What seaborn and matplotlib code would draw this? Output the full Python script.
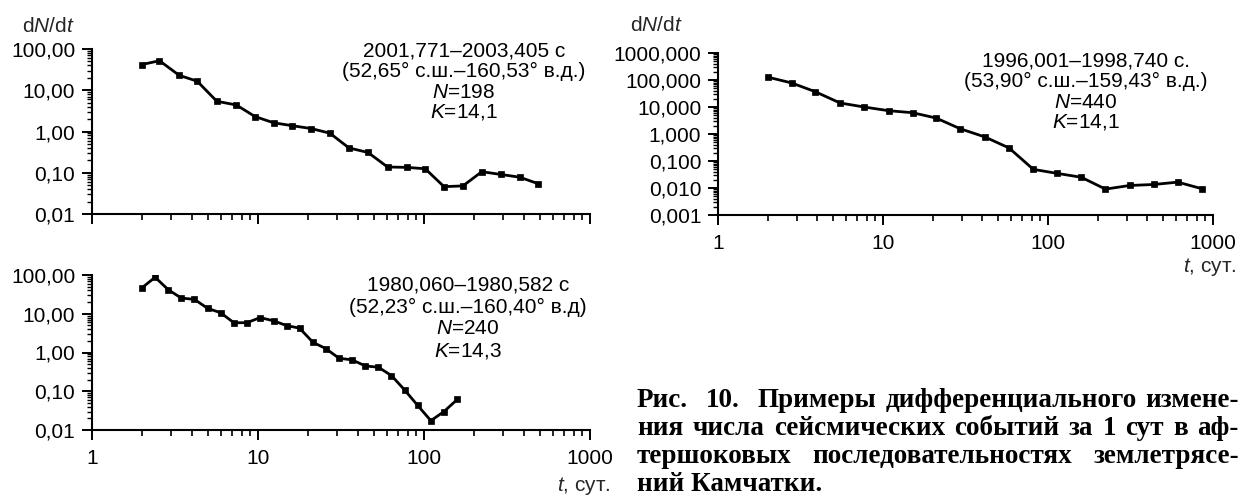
import numpy as np
import pandas as pd
import matplotlib
matplotlib.use("Agg")
import matplotlib.pyplot as plt
import seaborn as sns
from matplotlib.ticker import LogLocator, FuncFormatter, NullFormatter, FixedLocator

# --- aftershock sequences: time since main shock (days) and daily rate dN/dt ---
# 2001,771–2003,405
t_a = [2.0, 2.55, 3.35, 4.3, 5.65, 7.4, 9.6, 12.4, 16.1, 20.9, 27.1, 35.3, 46.0, 60.3,
       78.5, 101.7, 132.0, 171.6, 223.0, 290.0, 377.0, 489.0]
n_a = [42, 52, 23, 16.6, 5.4, 4.4, 2.3, 1.63, 1.38, 1.18, 0.91, 0.40, 0.31, 0.138,
       0.135, 0.125, 0.046, 0.048, 0.106, 0.091, 0.078, 0.054]

# 1980,060–1980,582
t_b = [2.0, 2.4, 2.88, 3.45, 4.14, 4.97, 5.96, 7.15, 8.57, 10.3, 12.4, 14.9, 17.8,
       21.4, 25.6, 30.8, 36.9, 44.3, 53.1, 63.7, 76.4, 91.6, 110.0, 132.0, 159.0]
n_b = [46.7, 87.5, 41.7, 25.4, 23.5, 13.8, 10.6, 5.87, 5.87, 7.96, 6.58, 4.94, 4.25,
       1.84, 1.26, 0.71, 0.645, 0.45, 0.417, 0.254, 0.108, 0.043, 0.0174, 0.030, 0.062]

# 1996,001–1998,740
t_c = [2.0, 2.79, 3.88, 5.49, 7.68, 10.8, 15.1, 21.0, 29.4, 41.4, 58.0, 81.5, 113.0,
       159.0, 223.0, 313.0, 438.0, 612.0, 862.0]
n_c = [128, 78, 37, 14.1, 10.0, 7.3, 6.15, 3.9, 1.56, 0.78, 0.305, 0.049, 0.035,
       0.025, 0.0091, 0.0124, 0.0135, 0.0165, 0.0093]

x_ticks = [1, 10, 100, 1000]
x_tick_labels = ["1", "10", "100", "1000"]
y_ticks_left = [0.01, 0.1, 1, 10, 100]
y_ticks_right = [0.001, 0.01, 0.1, 1, 10, 100, 1000]

info_a = ["2001,771–2003,405 с", "(52,65° с.ш.–160,53° в.д.)", "$N$=198", "$K$=14,1"]
info_b = ["1980,060–1980,582 с", "(52,23° с.ш.–160,40° в.д)", "$N$=240", "$K$=14,3"]
info_c = ["1996,001–1998,740 с.", "(53,90° с.ш.–159,43° в.д.)", "$N$=440", "$K$=14,1"]

caption_lines = [
    (["Рис.", "10.", "Примеры", "дифференциального", "измене-"], [2, 2, 1, 1]),
    (["ния", "числа", "сейсмических", "событий", "за", "1", "сут", "в", "аф-"], None),
    (["тершоковых", "последовательностях", "землетрясе-"], None),
]
caption_last = "ний Камчатки."

sns.set_theme(style="ticks")
plt.rcParams["font.family"] = ["Liberation Sans", "DejaVu Sans"]
plt.rcParams["mathtext.fontset"] = "custom"
plt.rcParams["mathtext.rm"] = "Liberation Sans"
plt.rcParams["mathtext.it"] = "Liberation Sans:italic"

W, H = 1240, 495
fig = plt.figure(figsize=(W / 100, H / 100), dpi=100)
fig.patch.set_facecolor("white")


def px_axes(x0, x1, y0, y1):
    return fig.add_axes([x0 / W, 1 - y1 / H, (x1 - x0) / W, (y1 - y0) / H])


FS = 15


def style_axis(ax, t, n, yticks, fmt, show_xlabels=True):
    df = pd.DataFrame({"t": t, "n": n})
    sns.lineplot(data=df, x="t", y="n", ax=ax, color="black", linewidth=2.0,
                 marker="s", markersize=5, markeredgecolor="black",
                 markerfacecolor="black", markeredgewidth=0.5)
    ax.set_xscale("log")
    ax.set_yscale("log")
    ax.set_xlim(1, 1000)
    ax.set_ylim(yticks[0], yticks[-1])
    ax.set_facecolor("white")
    for s in ["top", "right"]:
        ax.spines[s].set_visible(False)
    for s in ["left", "bottom"]:
        ax.spines[s].set_linewidth(1.5)
        ax.spines[s].set_color("black")
    ax.xaxis.set_major_locator(FixedLocator(x_ticks))
    ax.xaxis.set_minor_locator(LogLocator(base=10, subs=np.arange(2, 10), numticks=100))
    ax.yaxis.set_major_locator(FixedLocator(yticks))
    ax.yaxis.set_minor_locator(LogLocator(base=10, subs=np.arange(2, 10), numticks=100))
    ax.yaxis.set_major_formatter(FuncFormatter(lambda v, p: fmt.format(v).replace(".", ",")))
    ax.yaxis.set_minor_formatter(NullFormatter())
    ax.xaxis.set_minor_formatter(NullFormatter())
    if show_xlabels:
        ax.set_xticklabels(x_tick_labels)
    else:
        ax.set_xticklabels([])
    ax.tick_params(axis="both", which="major", direction="out", color="black",
                   labelcolor="black", labelsize=FS, width=1.4)
    ax.tick_params(axis="x", which="major", length=7.5, pad=6)
    ax.tick_params(axis="y", which="major", length=7, pad=5)
    ax.tick_params(axis="x", which="minor", direction="out", length=4, width=1.2, color="black")
    ax.tick_params(axis="y", which="minor", direction="out", length=3.5, width=1.0, color="black")
    ax.set_xlabel("")
    ax.set_ylabel("")
    ax.grid(False)


def info_block(lines, xc, y0, step):
    for i, s in enumerate(lines):
        fig.text(xc / W, 1 - (y0 + i * step) / H, s, ha="center", va="center",
                 fontsize=FS, color="black")


# upper-left panel
ax_a = px_axes(92, 590, 49, 214)
style_axis(ax_a, t_a, n_a, y_ticks_left, "{:.2f}", show_xlabels=False)
info_block(info_a, 464, 51, 20.5)
fig.text(22 / W, 1 - 32 / H, "d$N$/d$t$", ha="left", va="baseline", fontsize=FS)

# lower-left panel
ax_b = px_axes(92, 590, 275, 430)
style_axis(ax_b, t_b, n_b, y_ticks_left, "{:.2f}")
info_block(info_b, 468, 285, 22)
fig.text(611 / W, 1 - 491 / H, "$t$, сут.", ha="right", va="baseline", fontsize=FS)

# right panel
ax_c = px_axes(718, 1213, 53, 215)
style_axis(ax_c, t_c, n_c, y_ticks_right, "{:.3f}")
info_block(info_c, 1086, 61, 20.5)
fig.text(630 / W, 1 - 31 / H, "d$N$/d$t$", ha="left", va="baseline", fontsize=FS)
fig.text(1237 / W, 1 - 267 / H, "$t$, сут.", ha="right", va="center", fontsize=FS)

# figure caption, justified between x0 and x1 (pixels)
cap_kw = dict(fontsize=19.5, fontweight="bold", family=["Liberation Serif", "DejaVu Serif"],
              va="baseline", ha="left", color="black")
cap_x0, cap_x1 = 637, 1239
cap_y = [407, 435, 463, 491]
renderer = fig.canvas.get_renderer()
for (words, weights), yb in zip(caption_lines, cap_y[:3]):
    texts = [fig.text(0, 1 - yb / H, w, **cap_kw) for w in words]
    widths = [t.get_window_extent(renderer).width for t in texts]
    if weights is None:
        weights = [1] * (len(words) - 1)
    unit = (cap_x1 - cap_x0 - sum(widths)) / sum(weights)
    x = cap_x0
    for i, (t, w) in enumerate(zip(texts, widths)):
        t.set_x(x / W)
        if i < len(weights):
            x += w + unit * weights[i]
fig.text(cap_x0 / W, 1 - cap_y[3] / H, caption_last, **cap_kw)

fig.savefig("out.png", dpi=100, facecolor="white")
